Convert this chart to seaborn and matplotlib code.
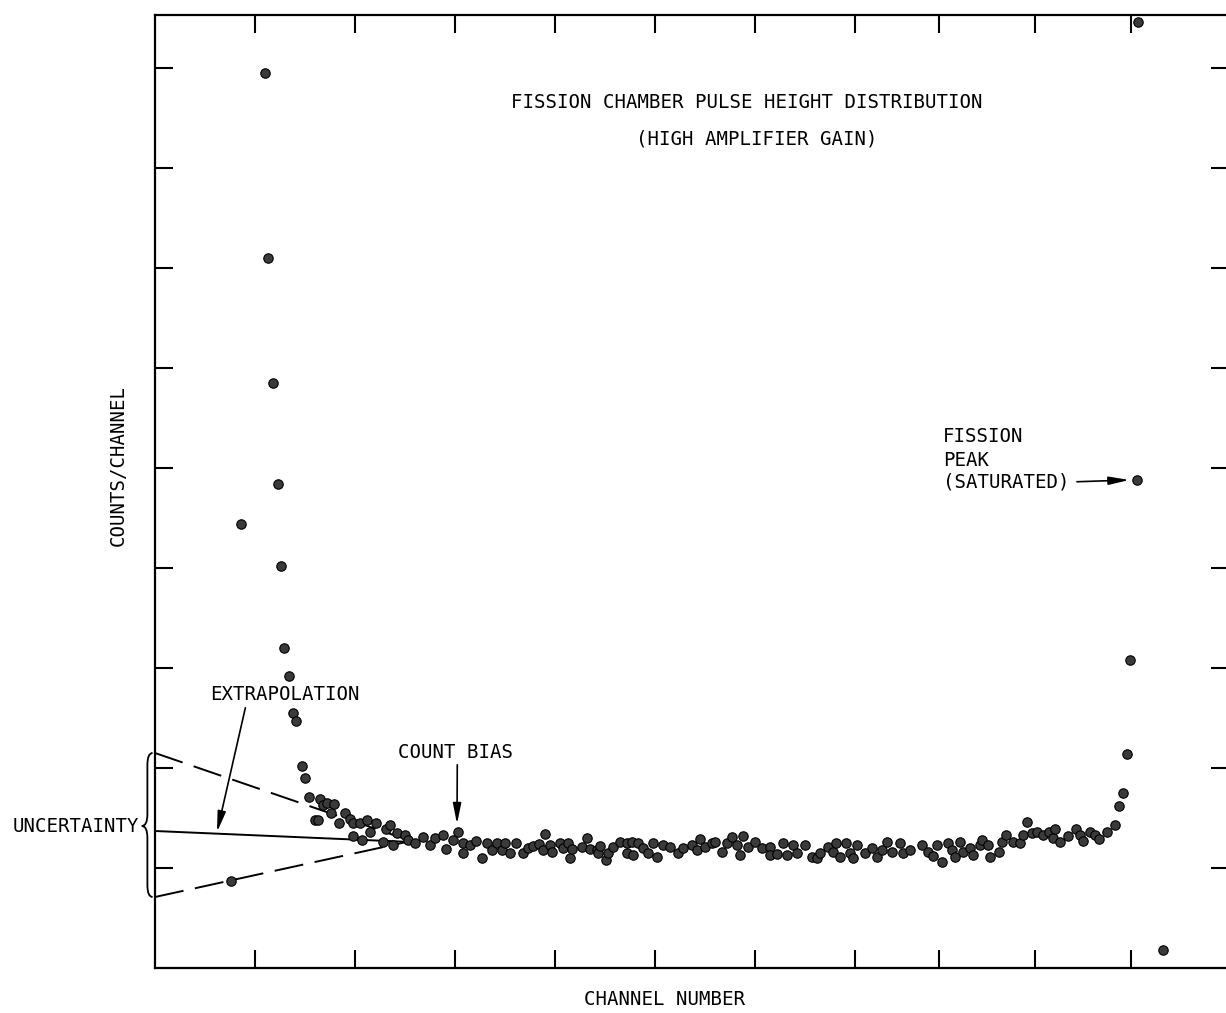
import matplotlib
matplotlib.use("Agg")
import matplotlib.pyplot as plt
import numpy as np
import pandas as pd
import seaborn as sns
from matplotlib.path import Path
from matplotlib.patches import PathPatch

# ---------------- data ----------------
channel = [19, 21.5, 27.5, 28.2, 29.5, 30.8, 31.5, 32.2, 33.5, 34.5, 35.2, 36.8, 37.5,
           38.5, 40, 40.8, 41.2, 42, 43, 44, 44.8, 46, 47.5, 48.8, 49.5, 49.5, 51.2,
           51.8, 53, 53.8, 55.2, 57, 57.8, 58.8, 59.5, 60.5, 62.5, 63.2, 65, 67, 68.8,
           70, 72, 72.8, 74.5, 75.8, 77, 77, 78.8, 80.2, 81.8, 83, 84.2, 85.5, 86.8,
           87.5, 88.8, 90.2, 92, 93.2, 94.5, 96, 97, 97.5, 98.8, 99.2, 101.2, 102,
           103.2, 103.8, 104.2, 106.8, 108, 108.8, 110.5, 110.8, 111.2, 112.8, 113.2,
           114.5, 116.2, 118, 118, 119.2, 119.5, 120.8, 122, 123.2, 124.5, 125.5, 127,
           128.8, 130.8, 132, 134.2, 135.5, 136.2, 137.5, 139.2, 140, 141.8, 143,
           144.2, 145.5, 146.2, 147, 148.2, 150, 151.8, 153.8, 153.8, 155.5, 157, 158,
           159.5, 160.5, 162.5, 164.2, 165.5, 166.2, 168.2, 169.5, 170.2, 171.2, 172.8,
           173.8, 174.5, 175.5, 177.5, 179.2, 180.5, 181.8, 183, 184.2, 186.2, 187,
           188.8, 191.8, 193.2, 194.5, 195.5, 196.8, 198.2, 199.2, 200, 201.2, 202,
           203.8, 204.5, 206.2, 206.8, 208.2, 208.8, 211, 211.8, 212.8, 214.5, 216.2,
           217, 218, 219.2, 220.5, 222, 223.5, 224.5, 225, 226.2, 228.2, 230.2, 231.2,
           232, 233.8, 235, 236, 238, 240, 241, 242, 243, 243.8, 245.5, 245.8, 252]
counts = [87, 444, 895, 710, 585, 484, 402, 320, 292, 255, 247, 202, 190,
          171, 148, 148, 169, 163, 165, 155, 164, 145, 155, 149, 145, 132, 145,
          128, 148, 136, 145, 126, 139, 143, 123, 135, 133, 128, 125, 131, 123,
          130, 133, 119, 128, 136, 125, 115, 123, 127, 110, 125, 118, 125, 118,
          125, 115, 125, 115, 120, 122, 124, 118, 134, 123, 116, 125, 120,
          125, 110, 119, 121, 130, 119, 118, 115, 122, 108, 115,
          121, 126, 125, 115, 126, 113, 125, 120, 115, 125, 111, 123,
          121, 115, 120, 123, 118, 129, 121, 125, 126, 116, 125,
          131, 123, 113, 132, 121, 126, 120, 121, 113, 114, 125, 113,
          123, 115, 123, 111, 110, 115, 121, 116, 125, 111, 125,
          115, 110, 123, 115, 120, 111, 118, 126, 116, 125, 115,
          118, 123, 116, 112, 123, 106, 125, 118, 111, 126, 116,
          120, 113, 123, 128, 123, 111, 116, 126, 133, 126, 125,
          133, 146, 135, 136, 133, 136, 130, 139, 126, 132, 139, 133,
          127, 136, 133, 129, 136, 143, 162, 175, 214, 308, 488, 946, 18]

x_ticks = [25, 50, 75, 100, 125, 150, 175, 196, 220, 244]
y_ticks = [100, 200, 300, 400, 500, 600, 700, 800, 900]

fit_channel = [0, 64]
fit_upper = [215, 127]
fit_middle = [137, 126]
fit_lower = [71, 127]

# ---------------- style ----------------
sns.set_style("white")
plt.rcParams["font.family"] = ["DejaVu Sans Mono", "DejaVu Sans"]
plt.rcParams["text.color"] = "black"
FS = 13.7

fig = plt.figure(figsize=(12.26, 10.13), dpi=100)
ax = fig.add_axes([155 / 1226, 45 / 1013, 1074 / 1226, 953 / 1013])

df = pd.DataFrame({"channel": channel, "counts": counts})
sns.scatterplot(data=df, x="channel", y="counts", ax=ax, s=46, color="#3a3a3a",
                edgecolor="black", linewidth=0.8, zorder=3, legend=False)

# extrapolation lines
fits = pd.DataFrame({"channel": fit_channel * 3,
                     "counts": fit_upper + fit_middle + fit_lower,
                     "kind": ["upper"] * 2 + ["middle"] * 2 + ["lower"] * 2})
for kind, ls in [("upper", (0, (15, 6))), ("middle", "-"), ("lower", (0, (15, 6)))]:
    sub = fits[fits["kind"] == kind]
    ax.plot(sub["channel"], sub["counts"], color="black", lw=1.4, linestyle=ls,
            zorder=2, clip_on=False)

ax.set_xlim(0, 268.5)
ax.set_ylim(0, 953)
ax.set_xticks(x_ticks)
ax.set_yticks(y_ticks)
ax.tick_params(direction="in", length=13, width=1.5, top=True, right=True,
               bottom=True, left=True, labelbottom=False, labelleft=False,
               colors="black")
for sp in ax.spines.values():
    sp.set_linewidth(1.6)
    sp.set_color("black")
    sp.set_visible(True)
ax.set_xlabel("")
ax.set_ylabel("")

# brace for uncertainty
top, bot = fit_upper[0], fit_lower[0]
mid = fit_middle[0] + 5
xe, xb, xt = -0.6, -1.9, -3.3
verts = [(xe, top), (xb, top), (xb, top - 12), (xb, mid + 12), (xb, mid), (xt, mid),
         (xb, mid), (xb, mid - 12), (xb, bot + 12), (xb, bot), (xe, bot)]
codes = [Path.MOVETO, Path.CURVE3, Path.CURVE3, Path.LINETO, Path.CURVE3, Path.CURVE3,
         Path.CURVE3, Path.CURVE3, Path.LINETO, Path.CURVE3, Path.CURVE3]
ax.add_patch(PathPatch(Path(verts, codes), fill=False, lw=1.3, color="black",
                       clip_on=False, transform=ax.transData))

txt = dict(fontsize=FS, color="black", clip_on=False)
ax.text(-4.0, mid, "UNCERTAINTY", ha="right", va="center", **txt)
ax.text(148, 865, "FISSION CHAMBER PULSE HEIGHT DISTRIBUTION", ha="center", va="center", **txt)
ax.text(150.5, 829, "(HIGH AMPLIFIER GAIN)", ha="center", va="center", **txt)
ax.text(127.5, -31, "CHANNEL NUMBER", ha="center", va="center", **txt)
ax.text(-9.3, 502, "COUNTS/CHANNEL", ha="center", va="center", rotation=90, **txt)

arrow = dict(arrowstyle="-|>,head_width=0.18,head_length=0.9", lw=1.2, color="black",
             shrinkA=0, shrinkB=0)
ax.annotate("EXTRAPOLATION", xy=(15.5, 136), xytext=(32.5, 273), ha="center", va="center",
            fontsize=FS, color="black", arrowprops=dict(arrow, relpos=(0.24, 0.0)))
ax.annotate("COUNT BIAS", xy=(75.5, 144), xytext=(75, 216), ha="center", va="center",
            fontsize=FS, color="black", arrowprops=dict(arrow, relpos=(0.52, 0.0)))
ax.text(197, 531, "FISSION", ha="left", va="center", **txt)
ax.text(197, 508, "PEAK", ha="left", va="center", **txt)
ax.annotate("(SATURATED)", xy=(243.6, 488), xytext=(197, 486), ha="left", va="center",
            fontsize=FS, color="black", arrowprops=dict(arrow, relpos=(1.0, 0.5), shrinkA=3))

fig.savefig("out.png", dpi=100, facecolor="white")
